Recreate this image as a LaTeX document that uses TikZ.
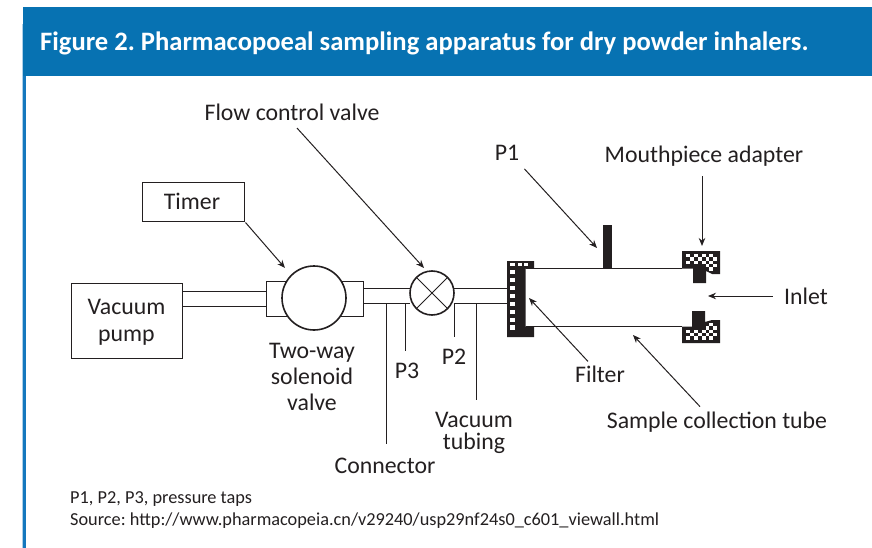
\documentclass[tikz,border=0pt]{standalone}
\usepackage{fontspec}
\setmainfont{Carlito}
\usetikzlibrary{arrows.meta, positioning, calc}
\definecolor{headerblue}{HTML}{0772B2}
\definecolor{barblue}{HTML}{1478BE}
\definecolor{inkblack}{HTML}{231F20}
\tikzset{
	tube/.style={draw=inkblack, line width=1pt},
	lab/.style={text=inkblack, font=\fontsize{23.8}{26}\selectfont, inner sep=1pt, align=center},
	note/.style={text=inkblack, font=\fontsize{18.3}{22}\selectfont, inner sep=0pt, anchor=west},
	pointer/.style={draw=inkblack, line width=1pt, -{Stealth[length=8pt,width=6.5pt]}},
	solid part/.style={fill=inkblack, draw=none},
	hole/.style={fill=white, draw=none}
}
\begin{document}
\frenchspacing
\begin{tikzpicture}[x=1pt, y=-1pt]
	\useasboundingbox (0,0) rectangle (872,548);
	\fill[headerblue] (23,7) rectangle (872,76);
	\fill[barblue] (23,76) rectangle (26,548);
	\fill[barblue!35] (22,24) rectangle (23,548);
	\node[anchor=west, text=white, inner sep=0pt, font=\fontsize{26.6}{32}\selectfont\bfseries] (title) at (40,43) {Figure 2. Pharmacopoeal sampling apparatus for dry powder inhalers.};

	\node[tube, minimum width=102pt, minimum height=38pt] (timer) at (193,202) {};
	\node[lab] (timertext) at (192,201) {Timer};
	\node[tube, minimum width=111pt, minimum height=75pt] (pump) at (126.5,320.5) {};
	\node[lab] (pumptext) at (126.5,322) {Vacuum\\[1pt]pump};

	\pgfmathsetmacro{\pipea}{291}
	\pgfmathsetmacro{\pipeb}{306}
	\pgfmathsetmacro{\pipec}{288}
	\pgfmathsetmacro{\piped}{303}
	\draw[tube] (182,\pipea) -- (266,\pipea);
	\draw[tube] (182,\pipeb) -- (266,\pipeb);
	\draw[tube] (266,281) rectangle (363,316);
	\node[draw=inkblack, fill=white, line width=1.6pt, circle, minimum size=64pt, inner sep=0pt] (solenoid) at (314,298) {};
	\draw[tube] (363,\pipec) -- (410,\pipec);
	\draw[tube] (363,\piped) -- (410,\piped);
	\draw[tube] (454,\pipec) -- (507,\pipec);
	\draw[tube] (454,\piped) -- (507,\piped);
	\node[draw=inkblack, fill=white, line width=1.6pt, circle, minimum size=44pt, inner sep=0pt] (valve) at (432,293) {};
	\draw[tube] (valve.north west) -- (valve.south east);
	\draw[tube] (valve.north east) -- (valve.south west);

	\coordinate (tapconn) at (386,\piped);
	\coordinate (tapthree) at (405,\piped);
	\coordinate (taptwo) at (454,\piped);
	\coordinate (tapvac) at (476,\piped);
	\draw[tube] (tapconn) -- (386,444);
	\draw[tube] (tapthree) -- (405,351);
	\draw[tube] (taptwo) -- (454,337);
	\draw[tube] (tapvac) -- (476,400);

	\node[lab] (flow) at (292,112.5) {Flow control valve};
	\node[lab] (pone) at (507,153) {P1};
	\node[lab] (adapter) at (704,156) {Mouthpiece adapter};
	\node[lab] (inlet) at (806,296) {Inlet};
	\node[lab] (twoway) at (312,377) {Two-way\\solenoid\\valve};
	\node[lab] (pthree) at (407,371) {P3};
	\node[lab] (ptwo) at (454,357) {P2};
	\node[lab] (vacuum) at (474,433) {Vacuum\\[-4pt]tubing};
	\node[lab] (connector) at (385,466) {Connector};
	\node[lab] (filter) at (600,374) {Filter};
	\node[lab] (sample) at (717,422) {Sample collection tube};

	\draw[tube] (526,268) -- (682,268);
	\draw[tube] (526,326) -- (682,326);
	\fill[solid part] (603,225) rectangle (612,268);
	\fill[solid part] (507,261) -- (534,261) -- (534,268.5) -- (525.5,268.5) -- (525.5,326.5) -- (534,326.5) -- (534,337) -- (507,337) -- cycle;
	\foreach \holey in {269.5,277.5,285.5,293.5,301.5,309.5,317.5,325}
		\fill[hole] (510,\holey) rectangle (515,\holey+4.8);
	\foreach \holex in {510,517.5,523.5}
		\fill[hole] (\holex,262.8) rectangle (\holex+4.8,265.8);

	\fill[solid part] (682,251) -- (720,251) -- (720,274) -- (712,274) -- (706,271) -- (706,283) -- (693,283) -- (693,268.5) -- (682,268.5) -- cycle;
	\fill[solid part] (682,343) -- (720,343) -- (720,320) -- (712,320) -- (705,322) -- (705,311) -- (692,311) -- (692,326.5) -- (682,326.5) -- cycle;
	\foreach \rowi in {0,...,4}
		\foreach \coli in {0,...,7} {
			\pgfmathparse{int(mod(\rowi+\coli,2))}
			\ifnum\pgfmathresult=0
				\ifnum\numexpr\rowi<3
					\fill[hole] (686+\coli*3.9,254+\rowi*3.3) rectangle ++(3.9,3.3);
					\fill[hole] (686+\coli*3.9,339.5-\rowi*3.3) rectangle ++(3.9,-3.3);
				\else\ifnum\coli>4
					\fill[hole] (686+\coli*3.9,254+\rowi*3.3) rectangle ++(3.9,3.3);
					\fill[hole] (686+\coli*3.9,339.5-\rowi*3.3) rectangle ++(3.9,-3.3);
				\fi\fi
			\fi
		}

	\coordinate (solenoidtip) at (285,268);
	\coordinate (valvetip) at (424,268);
	\coordinate (ponetip) at (597,248);
	\coordinate (adaptertip) at (702,246);
	\coordinate (inlettip) at (708,296);
	\coordinate (filtertip) at (529,298);
	\coordinate (sampletip) at (633,335);
	\draw[pointer] ([xshift=1pt,yshift=-1pt]timer.south east) -- (solenoidtip);
	\draw[pointer] ([xshift=5pt,yshift=-6pt]flow.south) -- (valvetip);
	\draw[pointer] ([xshift=4pt,yshift=-7pt]pone.south east) -- (ponetip);
	\draw[pointer] ([yshift=-9pt]adapter.south -| adaptertip) -- (adaptertip);
	\draw[pointer] ([xshift=-10pt]inlet.west) -- (inlettip);
	\draw[pointer] ([xshift=-12pt,yshift=3pt]filter.north) -- (filtertip);
	\draw[pointer] ([xshift=-17pt,yshift=4pt]sample.north) -- (sampletip);

	\node[note] (notea) at (70,499) {P1, P2, P3, pressure taps};
	\node[note] (noteb) at (70,521) {Source: http://www.pharmacopeia.cn/v29240/usp29nf24s0\_c601\_viewall.html};
\end{tikzpicture}
\end{document}
